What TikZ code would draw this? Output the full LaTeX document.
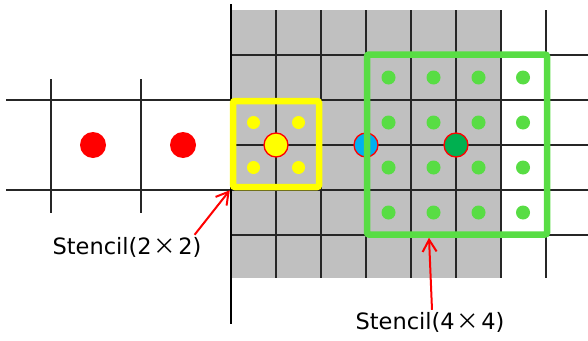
\documentclass[tikz,border=0pt]{standalone}
\usepackage{fontspec}
\setmainfont{DejaVu Sans}
\newfontfamily\cjkfont{Noto Sans CJK JP}
\usetikzlibrary{arrows.meta}

\definecolor{cellgray}{RGB}{192,192,192}
\definecolor{stencilyellow}{RGB}{255,255,0}
\definecolor{stencilgreen}{RGB}{88,221,68}
\definecolor{pointgreen}{RGB}{0,176,80}
\definecolor{pointblue}{RGB}{0,176,240}

\begin{document}
\begin{tikzpicture}[x=1pt, y=-1pt,
        grid/.style={line width=1.9pt, black!85},
        stencilbox/.style={draw, line width=6.5pt, rounded corners=2pt, inner sep=0pt},
        bigpoint/.style={draw=red, line width=1.3pt},
        lbl/.style={font=\fontsize{22.5}{26}\selectfont, inner sep=0pt},
        pointer/.style={red, line width=2pt, -{Straight Barb[length=12pt, width=14pt]}}]
        \useasboundingbox (0,0) rectangle (588,340);

        % fine cells
        \fill[cellgray] (231,10) rectangle (501,278);
        \foreach \x in {276,321,...,546}
            \draw[grid] (\x,10) -- (\x,278);
        \foreach \y in {55,100,...,235}
            \draw[grid] (231,\y) -- (588,\y);

        % coarse cells
        \foreach \y in {100,190}
            \draw[grid] (6,\y) -- (231,\y);
        \foreach \x in {51,141}
            \draw[grid] (\x,79) -- (\x,213);
        \draw[line width=2.6pt] (231,4) -- (231,324);

        % coarse points
        \foreach \x in {93,183}
            \fill[red] (\x,145) circle[radius=13];

        % 2x2 stencil points
        \foreach \x in {253.5,298.5}
            \foreach \y in {122.5,167.5}
                \fill[stencilyellow] (\x,\y) circle[radius=6.5];
        \filldraw[bigpoint, fill=stencilyellow] (276,145) circle[radius=12];

        % 4x4 stencil points
        \foreach \x in {388.5,433.5,478.5,523}
            \foreach \y in {77.5,122.5,167.5,212.5}
                \fill[stencilgreen] (\x,\y) circle[radius=7];
        \filldraw[bigpoint, fill=pointblue] (366,145) circle[radius=12];
        \filldraw[bigpoint, fill=pointgreen] (456,145) circle[radius=12];

        % stencils
        \node[stencilbox, draw=stencilyellow, minimum size=86pt] (small) at (276,144) {};
        \node[stencilbox, draw=stencilgreen, minimum size=180pt] (large) at (457,144.5) {};

        \node[lbl] (smalllabel) at (127,247) {Stencil(2\kern2pt{\cjkfont ×}\kern2pt2)};
        \node[lbl] (largelabel) at (430,322) {Stencil(4\kern2pt{\cjkfont ×}\kern2pt4)};
        \draw[pointer] ([xshift=-7pt, yshift=2pt]smalllabel.north east) -- (small.south west);
        \draw[pointer] ([xshift=2pt, yshift=2pt]largelabel.north) -- ([xshift=-28pt]large.south);
    \end{tikzpicture}
\end{document}
